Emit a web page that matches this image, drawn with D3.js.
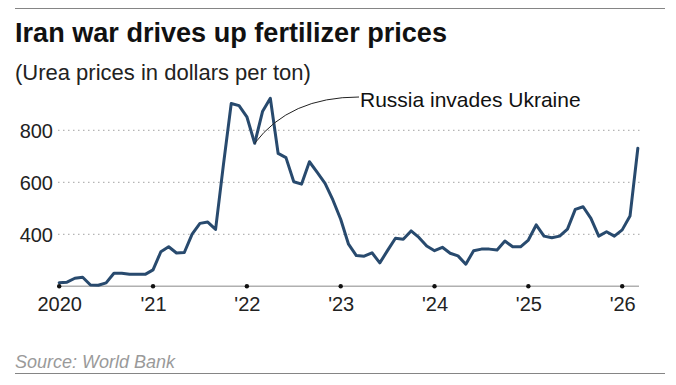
<!DOCTYPE html>
<html>
<head>
<meta charset="utf-8">
<script src="https://cdn.jsdelivr.net/npm/d3@7"></script>
<style>
  html, body { margin: 0; padding: 0; background: #fff; }
  svg { display: block; font-family: "Liberation Sans", Arial, sans-serif; }
</style>
</head>
<body>
<svg id="chart" width="676" height="385"></svg>
<script>
// ---- Data (monthly urea price, $/ton, Jan 2020 – Mar 2026) ----
const startYear = 2020;
const prices2020 = [214, 216, 231, 235, 205, 204, 213, 250, 250, 246, 246, 246];
const prices2021 = [263, 333, 352, 328, 330, 401, 442, 447, 419, 667, 903, 895];
const prices2022 = [852, 750, 872, 923, 711, 695, 602, 593, 679, 638, 596, 532];
const prices2023 = [458, 362, 318, 316, 329, 290, 338, 385, 381, 413, 388, 355];
const prices2024 = [337, 350, 327, 317, 285, 337, 343, 343, 340, 374, 352, 352];
const prices2025 = [378, 436, 393, 387, 393, 420, 496, 506, 461, 393, 410, 393];
const prices2026 = [417, 470, 731];
const prices = [].concat(prices2020, prices2021, prices2022, prices2023, prices2024, prices2025, prices2026);

const xTickYears = [2020, 2021, 2022, 2023, 2024, 2025, 2026];
const xTickLabels = ["2020", "'21", "'22", "'23", "'24", "'25", "'26"];
const yTicks = [400, 600, 800];
const annotationText = "Russia invades Ukraine";
const annotationIndex = 25; // Feb 2022

const title = "Iran war drives up fertilizer prices";
const subtitle = "(Urea prices in dollars per ton)";
const source = "Source: World Bank";

// ---- Layout ----
const svg = d3.select("#chart");
const x = d3.scaleLinear().domain([2020, 2026]).range([59.2, 622.2]);
const y = d3.scaleLinear().domain([200, 800]).range([286.3, 130.3]);
const t = i => startYear + i / 12;

svg.append("rect").attr("width", 676).attr("height", 385).attr("fill", "#fff");

// top & bottom rules
svg.append("line").attr("x1", 15).attr("x2", 665).attr("y1", 8.5).attr("y2", 8.5)
  .attr("stroke", "#858585").attr("stroke-width", 1.2);
svg.append("line").attr("x1", 15).attr("x2", 665).attr("y1", 373.5).attr("y2", 373.5)
  .attr("stroke", "#858585").attr("stroke-width", 1.2);

// title / subtitle
svg.append("text").attr("x", 15).attr("y", 42).text(title)
  .attr("font-size", 27).attr("font-weight", "bold").attr("fill", "#111")
  .attr("textLength", 432).attr("lengthAdjust", "spacingAndGlyphs");
svg.append("text").attr("x", 15).attr("y", 80).text(subtitle)
  .attr("font-size", 22).attr("fill", "#222");

// gridlines
const grid = svg.append("g");
grid.selectAll("line").data(yTicks).join("line")
  .attr("x1", 58).attr("x2", 640)
  .attr("y1", d => y(d)).attr("y2", d => y(d))
  .attr("stroke", "#b5b5b5").attr("stroke-width", 1.2)
  .attr("stroke-dasharray", "1.5,3.5");

// y axis labels
const yAxis = d3.axisLeft(y).tickValues(yTicks).tickSize(0).tickPadding(0);
const yg = svg.append("g").attr("transform", "translate(53,0)").call(yAxis);
yg.select(".domain").remove();
yg.selectAll("text").attr("font-size", 20).attr("fill", "#222")
  .attr("font-family", "Liberation Sans, Arial, sans-serif").attr("dy", "0.35em");

// x axis
const xAxis = d3.axisBottom(x).tickValues(xTickYears).tickSize(0).tickPadding(0)
  .tickFormat((d, i) => xTickLabels[i]);
const xg = svg.append("g").attr("transform", `translate(0,${y(200)})`).call(xAxis);
xg.select(".domain").remove();
xg.selectAll("text").attr("font-size", 20).attr("fill", "#222")
  .attr("font-family", "Liberation Sans, Arial, sans-serif")
  .attr("dy", 0).attr("y", 25);
svg.append("line").attr("x1", 57).attr("x2", 639)
  .attr("y1", y(200)).attr("y2", y(200))
  .attr("stroke", "#b0b0b0").attr("stroke-width", 1.6);

// data line
const line = d3.line().x((d, i) => x(t(i))).y(d => y(d)).curve(d3.curveLinear);
svg.append("path").datum(prices).attr("d", line)
  .attr("fill", "none").attr("stroke", "#284a6e").attr("stroke-width", 3)
  .attr("stroke-linejoin", "round").attr("stroke-linecap", "round");

// tick dots on top
svg.append("g").selectAll("circle").data(xTickYears).join("circle")
  .attr("cx", d => x(d)).attr("cy", y(200)).attr("r", 2.2).attr("fill", "#111");

// annotation
const ax = x(t(annotationIndex)), ay = y(prices[annotationIndex]);
const tx = 359, ty = 97;
const p = d3.path();
p.moveTo(ax, ay);
p.quadraticCurveTo(ax + 35, ty, tx, ty);
svg.append("path").attr("d", p.toString()).attr("fill", "none")
  .attr("stroke", "#222").attr("stroke-width", 1);
svg.append("text").attr("x", 360).attr("y", 107).text(annotationText)
  .attr("font-size", 21).attr("fill", "#111");

// source
svg.append("text").attr("x", 15).attr("y", 368).text(source)
  .attr("font-size", 18).attr("font-style", "italic").attr("fill", "#9a9a9a");
</script>
</body>
</html>
